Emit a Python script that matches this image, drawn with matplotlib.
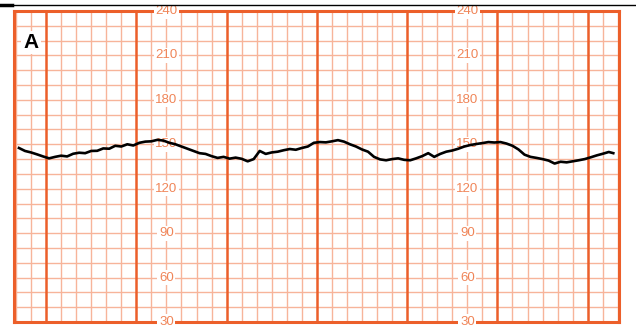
import matplotlib
matplotlib.use("Agg")
import matplotlib.pyplot as plt
from matplotlib.lines import Line2D

# fetal heart rate trace, time in seconds, rate in bpm
t_sec = [-18, -14, -10, -6, -2, 2, 6, 10, 14, 18, 22, 26, 30, 34, 38, 42, 46, 50,
         54, 58, 62, 66, 70, 74, 78, 82, 86, 90, 94, 98, 102, 106, 110, 114, 118,
         122, 126, 130, 134, 138, 142, 146, 150, 154, 158, 162, 166, 170, 174,
         178, 182, 186, 190, 194, 198, 202, 206, 210, 214, 218, 222, 226, 230,
         234, 238, 242, 246, 250, 254, 258, 262, 266, 270, 274, 278, 282, 286,
         290, 294, 298, 302, 306, 310, 314, 318, 322, 326, 330, 334, 338, 342,
         346, 350, 354, 358, 362, 366, 370, 374, 377]
bpm = [147.5, 145.5, 144.5, 143.2, 141.8, 140.5, 141.5, 142.3, 141.8, 143.6,
       144.3, 144.0, 145.5, 145.6, 147.2, 147.0, 149.0, 148.5, 150.0, 149.2,
       151.0, 151.8, 152.0, 153.0, 152.5, 151.0, 150.0, 148.5, 147.0, 145.5,
       144.0, 143.5, 142.0, 140.8, 141.5, 140.3, 141.0, 140.2, 138.5, 140.0,
       145.5, 143.5, 144.5, 145.0, 146.0, 146.8, 146.3, 147.5, 148.5, 151.0,
       151.5, 151.3, 152.0, 152.8, 151.8, 150.0, 148.5, 146.5, 145.0, 141.5,
       139.8, 139.2, 140.0, 140.5, 139.5, 139.2, 140.5, 142.0, 144.0, 141.5,
       143.5, 145.0, 145.8, 147.0, 148.5, 149.5, 150.2, 150.8, 151.5, 151.2,
       151.5, 150.5, 149.0, 146.5, 143.0, 141.5, 140.8, 140.0, 139.0, 137.0,
       138.2, 137.8, 138.5, 139.2, 140.0, 141.2, 142.5, 143.6, 144.8, 144.0]

scale_labels = [240, 210, 180, 150, 120, 90, 60, 30]
label_cols = [80, 280]

thick = "#ec5f2a"
thin = "#f7b49a"
lab_col = "#f08558"

fig = plt.figure(figsize=(6.36, 3.25), dpi=100)
ax = fig.add_axes([14 / 636, 3 / 325, 605 / 636, 311 / 325])
ax.set_xlim(-21.3, 380.8)
ax.set_ylim(30, 240)

# paper grid
for y in range(30, 241, 10):
    ax.axhline(y, color=thin, lw=1.0, zorder=1)
for x in range(-20, 381, 10):
    if x % 60 == 0:
        ax.axvline(x, color=thick, lw=1.8, zorder=2)
    else:
        ax.axvline(x, color=thin, lw=1.0, zorder=1)

for s in ax.spines.values():
    s.set_color(thick)
    s.set_linewidth(2.2)
ax.set_xticks([])
ax.set_yticks([])

# scale numbers (the bottom row is cut by the strip edge, as on the paper)
for c in label_cols:
    for v in scale_labels:
        ax.text(c, v, str(v), ha="center", va="center", fontsize=9.5,
                family=["Liberation Sans", "DejaVu Sans"], color=lab_col, zorder=3,
                bbox=dict(boxstyle="square,pad=0.12", fc="white", ec="none"))

ax.plot(t_sec, bpm, color="black", lw=1.9, zorder=4)

ax.text(-10, 219, "A", ha="center", va="center", fontsize=15, fontweight="bold",
        family=["Liberation Sans", "DejaVu Sans"], color="black", zorder=3,
        bbox=dict(boxstyle="square,pad=0.1", fc="white", ec="none"))

# black rule above the strip
fig.add_artist(Line2D([0, 12 / 636], [1 - 5 / 325] * 2, color="black", lw=2.5))
fig.add_artist(Line2D([12 / 636, 1], [1 - 5 / 325] * 2, color="black", lw=1.0))

fig.savefig("out.png", dpi=100)
